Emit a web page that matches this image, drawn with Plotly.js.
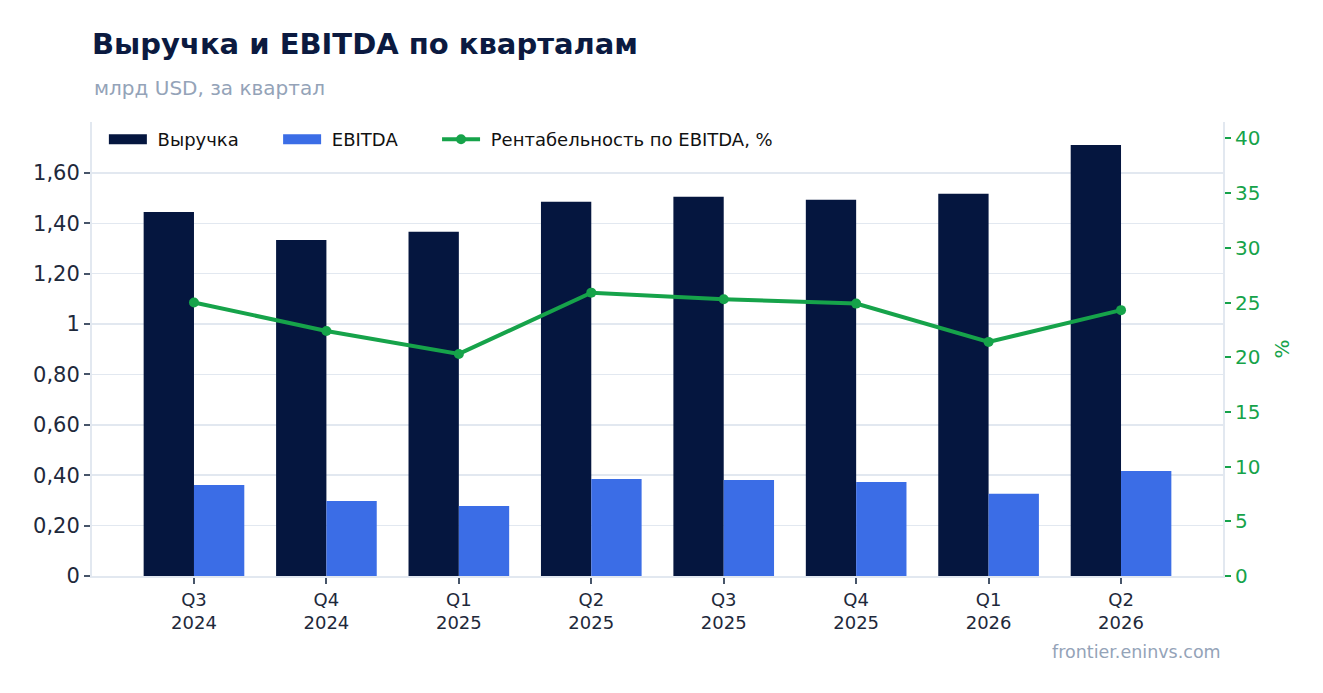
<!DOCTYPE html>
<html>
<head>
<meta charset="utf-8">
<script src="https://cdn.plot.ly/plotly-3.0.1.min.js"></script>
<style>
  body { margin: 0; background: #fff; }
  #chart { width: 1323px; height: 693px; }
</style>
</head>
<body>
<div id="chart"></div>
<script>
var quarters = ['Q3<br>2024', 'Q4<br>2024', 'Q1<br>2025', 'Q2<br>2025',
                'Q3<br>2025', 'Q4<br>2025', 'Q1<br>2026', 'Q2<br>2026'];
var revenue = [1.445, 1.334, 1.366, 1.485, 1.505, 1.493, 1.517, 1.711];
var ebitda = [0.361, 0.298, 0.278, 0.385, 0.381, 0.373, 0.326, 0.417];
var margin = [25.0, 22.4, 20.3, 25.9, 25.3, 24.9, 21.4, 24.3];

var leftTicks = [0, 0.2, 0.4, 0.6, 0.8, 1, 1.2, 1.4, 1.6];
var leftLabels = ['0', '0,20', '0,40', '0,60', '0,80', '1', '1,20', '1,40', '1,60'];

var navy = '#05163f';
var blue = '#3b6de6';
var green = '#16a34a';
var grey = '#94a3b8';
var gridc = '#e2e8f0';

// legend spacing: pad names with non-breaking spaces
function pad(s, last) {
    return '\u00a0' + s + (last ? '' : '\u00a0\u00a0\u00a0\u00a0\u00a0\u00a0');
}

// bars are kept out of the legend; wide line swatches stand in for them
var traces = [
    {
        x: quarters, y: revenue, name: 'Выручка', type: 'bar',
        marker: { color: navy }, showlegend: false, legendgroup: 'rev'
    },
    {
        x: quarters, y: ebitda, name: 'EBITDA', type: 'bar',
        marker: { color: blue }, showlegend: false, legendgroup: 'ebitda'
    },
    {
        x: [null], y: [null], name: pad('Выручка'), type: 'scatter', mode: 'lines',
        line: { color: navy, width: 13 }, legendgroup: 'rev'
    },
    {
        x: [null], y: [null], name: pad('EBITDA'), type: 'scatter', mode: 'lines',
        line: { color: blue, width: 13 }, legendgroup: 'ebitda'
    },
    {
        x: quarters, y: margin, name: pad('Рентабельность по EBITDA, %', true),
        type: 'scatter', mode: 'lines+markers', yaxis: 'y2',
        line: { color: green, width: 4 },
        marker: { color: green, size: 10 }
    }
];

var layout = {
    width: 1323, height: 693,
    margin: { l: 92, r: 100, t: 122, b: 117 },
    paper_bgcolor: '#fff', plot_bgcolor: '#fff',
    font: { family: 'DejaVu Sans, sans-serif', color: '#1e293b' },
    barmode: 'group', bargap: 0.24, bargroupgap: 0,
    showlegend: true,
    legend: {
        orientation: 'h', x: 0.0105, y: 1.002, yanchor: 'top', xanchor: 'left',
        itemwidth: 38, tracegroupgap: 0,
        bgcolor: 'rgba(0,0,0,0)', font: { size: 18, color: '#111' }
    },
    title: {
        text: '<b>Выручка и EBITDA по кварталам</b>',
        x: 92 / 1323, xanchor: 'left', xref: 'container',
        y: 1 - 44 / 693, yanchor: 'middle', yref: 'container',
        font: { size: 29, color: '#0b1a40' }
    },
    xaxis: {
        type: 'category', range: [-0.77, 7.77],
        showline: true, linecolor: gridc, linewidth: 2,
        ticks: 'outside', tickcolor: '#475569', ticklen: 6, tickwidth: 2,
        tickfont: { size: 18, color: '#1e293b' },
        showgrid: false
    },
    yaxis: {
        range: [0, 1.802],
        tickvals: leftTicks, ticktext: leftLabels,
        showline: true, linecolor: gridc, linewidth: 2,
        ticks: 'outside', tickcolor: '#475569', ticklen: 6, tickwidth: 2,
        tickfont: { size: 21, color: '#1e293b' },
        gridcolor: gridc, gridwidth: 1.5, zeroline: false
    },
    yaxis2: {
        overlaying: 'y', side: 'right',
        range: [0, 41.5], dtick: 5,
        showline: true, linecolor: gridc, linewidth: 2,
        ticks: 'outside', tickcolor: green, ticklen: 6, tickwidth: 2,
        tickfont: { size: 20, color: green },
        showgrid: false, zeroline: false,
        title: { text: '%', font: { size: 20, color: green }, standoff: 16 }
    },
    annotations: [
        {
            text: 'млрд USD, за квартал', showarrow: false,
            xref: 'paper', yref: 'paper', x: 0, y: 1 + (122 - 88) / 454,
            xanchor: 'left', yanchor: 'middle',
            font: { size: 20, color: grey }
        },
        {
            text: 'frontier.eninvs.com', showarrow: false,
            xref: 'paper', yref: 'paper', x: 1, y: -(652 - 576) / 454,
            xanchor: 'right', yanchor: 'middle',
            font: { size: 17.5, color: grey }
        }
    ]
};

Plotly.newPlot('chart', traces, layout, { displayModeBar: false, staticPlot: true });
</script>
</body>
</html>
